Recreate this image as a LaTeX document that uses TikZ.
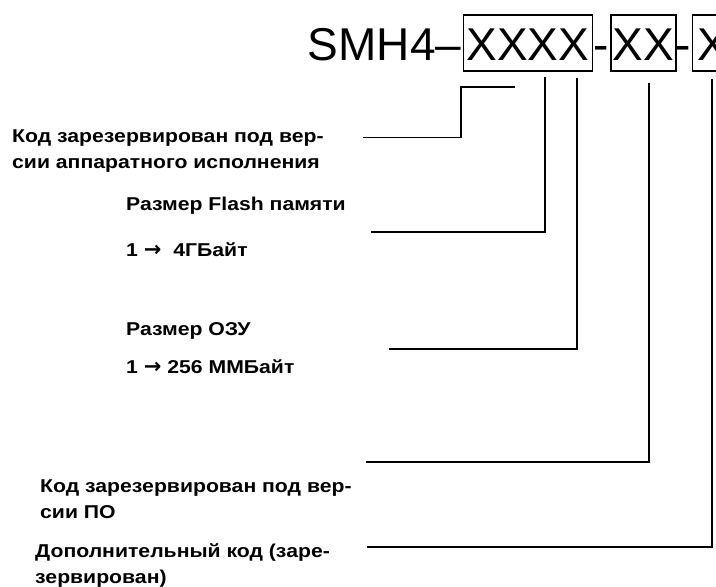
\documentclass[tikz,border=0pt]{standalone}
\usepackage{fontspec}
\setmainfont{Liberation Sans}
\newfontfamily\lblfont{Liberation Sans}[FakeStretch=1.14]
\newfontfamily\arrfont{DejaVu Sans}
\newcommand{\rarr}{{\arrfont\bfseries\fontsize{21}{21}\selectfont →}}
\usetikzlibrary{positioning}

\begin{document}
\begin{tikzpicture}[x=1pt, y=-1pt,
  lbl/.style={anchor=base west, inner sep=0pt, align=left,
              font=\lblfont\fontsize{18.6}{25.5}\selectfont\bfseries},
  ttl/.style={inner sep=0pt, font=\fontsize{46}{46}\selectfont},
  xbox/.style={ttl, draw, line width=1.6pt, anchor=base west, inner ysep=0pt,
               text height=45pt, text depth=10.7pt},
  ln/.style={line width=1.6pt}
]
\useasboundingbox (0,0) rectangle (716,587);
\clip (0,0) rectangle (716,587);

% code
\node[ttl, anchor=base east] (smh) at (461.5,60) {SMH4–};
\node[xbox, minimum width=129pt] (b1) at (462.5,60) {XXXX};
\node[ttl, anchor=base] (d1) at (601,60) {-};
\node[xbox, minimum width=65pt] (b2) at (610,60) {XX};
\node[ttl, anchor=base] (d2) at (683.5,60) {-};
\node[xbox, minimum width=40pt] (b3) at (691.7,60) {X};

% descriptions (base = last line)
\node[lbl] (hw) at (12,168) {Код зарезервирован под вер-\\сии аппаратного исполнения};
\node[lbl] (flash) at (126,210) {Размер Flash памяти};
\node[lbl] (flashv) at (126,256.7) {1 \rarr{} \hspace{6pt}4ГБайт};
\node[lbl] (ram) at (126,335) {Размер ОЗУ};
\node[lbl] (ramv) at (126,373) {1 \rarr{} 256 ММБайт};
\node[lbl] (po) at (40,518.3) {Код зарезервирован под вер-\\сии ПО};
\node[lbl] (add) at (35,583.3) {Дополнительный код (заре-\\зервирован)};

% leader ends
\coordinate (hwa) at (515,87);
\coordinate (hwb) at (461,87);
\coordinate (hwe) at (362.7,137.3);
\coordinate (fla) at (544.7,77);
\coordinate (fle) at (371.3,231.7);
\coordinate (rma) at (576.7,78);
\coordinate (rme) at (389.3,348.7);
\coordinate (poa) at (648.7,83);
\coordinate (poe) at (366,461.7);
\coordinate (ada) at (711.7,79);
\coordinate (ade) at (367.3,546.7);

\draw[ln] (hwa) -- (hwb) |- (hwe);
\draw[ln] (fla) |- (fle);
\draw[ln] (rma) |- (rme);
\draw[ln] (poa) |- (poe);
\draw[ln] (ada) |- (ade);
\end{tikzpicture}
\end{document}
